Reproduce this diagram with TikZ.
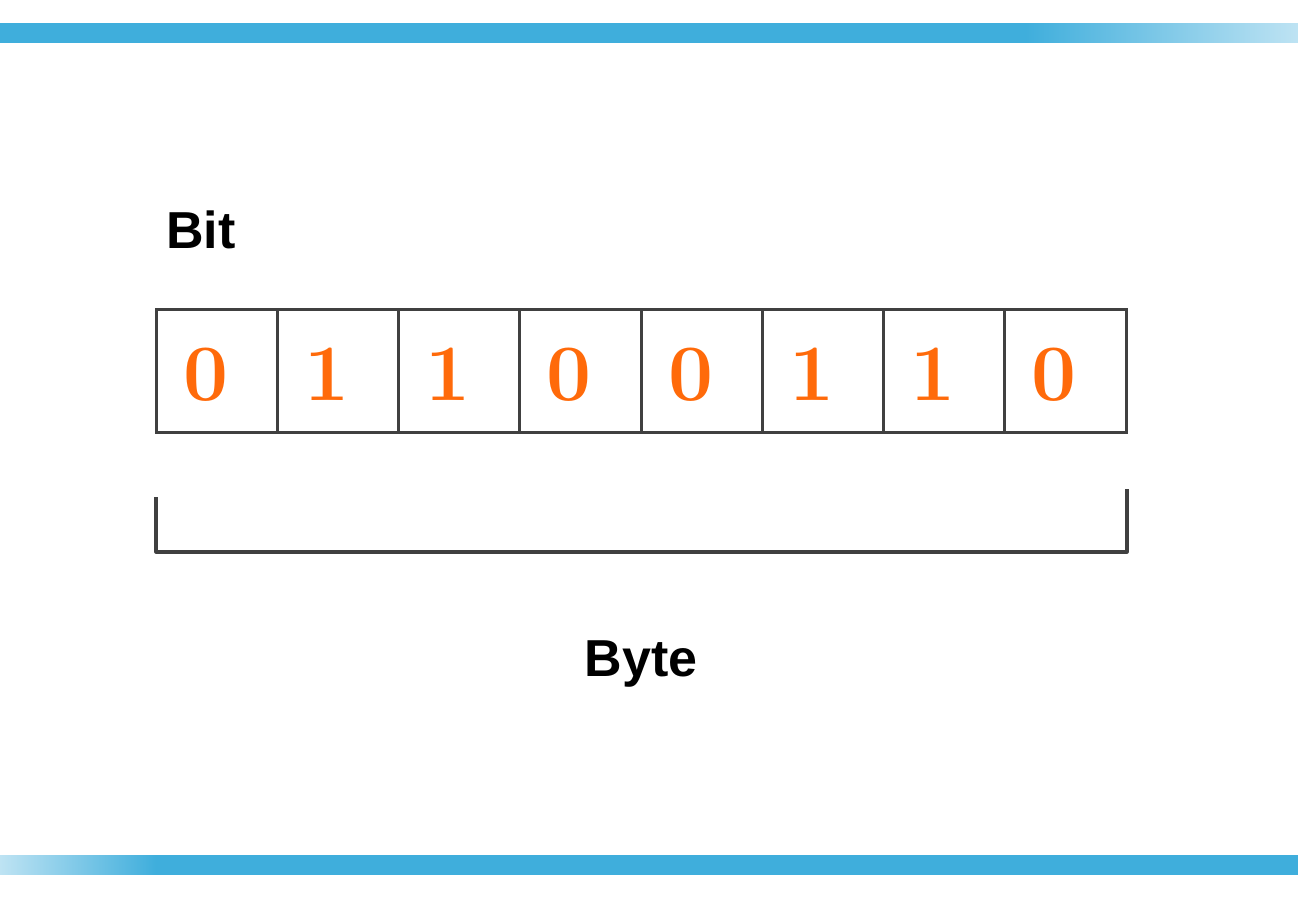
\documentclass[tikz,border=0pt]{standalone}
\usepackage{fontspec}
\setsansfont{Liberation Sans}
\definecolor{barblue}{HTML}{3FAEDC}
\definecolor{barlight}{HTML}{BEE3F3}
\definecolor{digitorange}{HTML}{FF6A0A}
\definecolor{linegray}{HTML}{404040}
\pgfdeclarehorizontalshading{topbarshade}{100bp}{color(0bp)=(barblue); color(25bp)=(barblue); color(64.5bp)=(barblue); color(75bp)=(barlight); color(100bp)=(barlight)}
\pgfdeclarehorizontalshading{bottombarshade}{100bp}{color(0bp)=(barlight); color(25bp)=(barlight); color(31bp)=(barblue); color(75bp)=(barblue); color(100bp)=(barblue)}
\tikzset{
  cell/.style={draw=linegray, line width=3pt, minimum width=121.25pt, minimum height=123pt, inner sep=0pt, outer sep=0pt},
  digit/.style={text=digitorange, font=\fontsize{80}{80}\selectfont\bfseries},
  label/.style={font=\sffamily\bfseries\fontsize{52}{52}\selectfont, text=black, inner sep=0pt},
  bracket/.style={draw=linegray, line width=3.2pt, line join=round}
}
\begin{document}
\begin{tikzpicture}[x=1pt,y=-1pt]
\useasboundingbox (0,0) rectangle (1298,900);
\fill[white] (0,0) rectangle (1298,900);
% top bar
\shade[shading=topbarshade] (0,23) rectangle (1298,42);
% bottom bar
\shade[shading=bottombarshade] (0,855) rectangle (1298,874);
% cells
\foreach \i/\d in {1/0,2/1,3/1,4/0,5/0,6/1,7/1,8/0}{
  \node[cell] (c\i) at ({156+121.25*(\i-0.5)},370.5) {};
  \node[digit] (d\i) at ([xshift=-11pt,yshift=-4pt]c\i.center) {\d};
}
% labels
\node[label, anchor=base west] (bit) at (166,248) {Bit};
\node[label, anchor=base] (byte) at (641,676) {Byte};
% bracket
\coordinate (bl) at (156,497);
\coordinate (blc) at (156,552);
\coordinate (brc) at (1127,552);
\coordinate (br) at (1127,489);
\draw[bracket] (bl) -- (blc) -- (brc) -- (br);
\end{tikzpicture}
\end{document}
